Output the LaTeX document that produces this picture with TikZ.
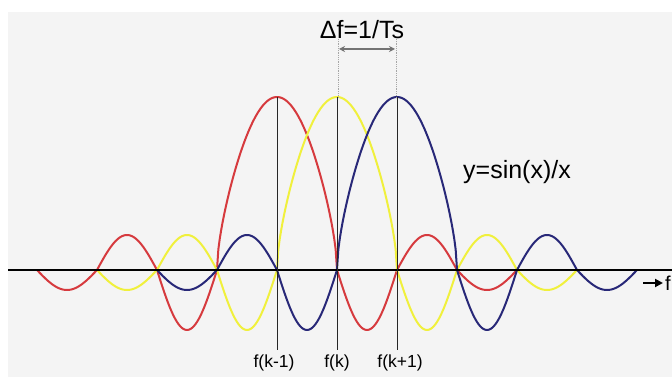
\documentclass[tikz,border=0pt]{standalone}
\usepackage{fontspec}
\setmainfont{Liberation Sans}
\usetikzlibrary{arrows.meta}
\definecolor{bggray}{RGB}{244,244,244}
\definecolor{cred}{RGB}{214,58,62}
\definecolor{cyel}{RGB}{240,240,60}
\definecolor{cblue}{RGB}{40,40,120}
\newcommand\sidelobe[4]{\draw[curve,#1] plot[domain=0:180,samples=40] ({(#2)+(#3)*(\x/180)},{109+(#4)*sin(\x)});}
\newcommand\mainlobe[3]{\draw[curve,#1] plot[domain=0:180,samples=90] ({(#2)+(#3)*(\x/180)},{109+173*(0.45*sin(\x)+0.55*sqrt(abs(sin(\x))+0.00001))});}
\newcommand\sinccurve[2]{%
  \sidelobe{#1}{#2}{60}{-20}
  \sidelobe{#1}{#2+60}{60}{35}
  \sidelobe{#1}{#2+120}{60}{-60}
  \mainlobe{#1}{#2+180}{120}
  \sidelobe{#1}{#2+300}{60}{-60}
  \sidelobe{#1}{#2+360}{60}{35}
  \sidelobe{#1}{#2+420}{60}{-20}}
\begin{document}
\begin{tikzpicture}[x=1pt,y=1pt,
  curve/.style={line width=2pt,line join=round,line cap=round},
  marker/.style={draw=black!85,line width=1pt},
  guide/.style={draw=black!35,densely dotted,line width=0.8pt},
  lbl/.style={font=\fontsize{17.5}{17.5}\selectfont,inner sep=0pt},
  big/.style={font=\fontsize{25}{25}\selectfont,inner sep=0pt}]
\useasboundingbox (0,0) rectangle (672,379);
\fill[white] (0,0) rectangle (672,379);
\fill[bggray] (8,2) rectangle (672,367);
% curves
\sinccurve{cred}{37}
\sinccurve{cyel}{97}
\sinccurve{cblue}{157}
% axis
\coordinate (axL) at (8,109);
\coordinate (axR) at (672,109);
\draw[line width=2pt,black] (axL) -- (axR);
% vertical markers
\coordinate (t1) at (277,282); \coordinate (b1) at (277,29);
\coordinate (t2) at (337,282); \coordinate (b2) at (337,29);
\coordinate (t3) at (397,282); \coordinate (b3) at (397,29);
\draw[marker] (t1) -- (b1);
\draw[marker] (t2) -- (b2);
\draw[marker] (t3) -- (b3);
\node[lbl] (l1) at (274,16) {f(k-1)};
\node[lbl] (l2) at (337,16) {f(k)};
\node[lbl] (l3) at (400,16) {f(k+1)};
% delta f
\coordinate (g1t) at (338,340); \coordinate (g1b) at (338,282);
\coordinate (g2t) at (396,340); \coordinate (g2b) at (396,282);
\draw[guide] (g1t) -- (g1b);
\draw[guide] (g2t) -- (g2b);
\coordinate (d1) at (339,330); \coordinate (d2) at (395,330);
\draw[draw=black!55,line width=1.2pt,{Stealth[length=6pt,width=6pt]}-{Stealth[length=6pt,width=6pt]}] (d1) -- (d2);
\node[big] (df) at (362,349) {Δf=1/Ts};
% formula
\node[big] (eq) at (517,207) {y=sin(x)/x};
% f axis label
\coordinate (fa1) at (643,96); \coordinate (fa2) at (663,96);
\draw[line width=2pt,-{Triangle[length=8pt,width=8pt]}] (fa1) -- (fa2);
\node[anchor=west,inner sep=0pt,font=\fontsize{20}{20}\selectfont] (fl) at (665,96) {f};
\end{tikzpicture}
\end{document}
